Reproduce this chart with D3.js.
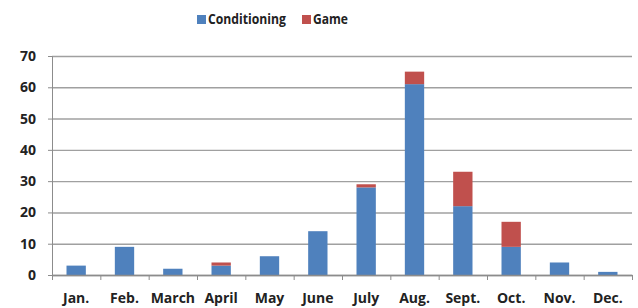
<html>
  <head>
    <title>Conditioning vs Game</title>
    <script src="https://d3js.org/d3.v7.min.js"></script>
  </head>
  <body style="margin:0; background:#fff;">
    <svg id="barchart" width="638" height="308"></svg>
    <script>
    // data
    const months = ["Jan.", "Feb.", "March", "April", "May", "June", "July", "Aug.", "Sept.", "Oct.", "Nov.", "Dec."];
    const conditioning = [3, 9, 2, 3, 6, 14, 28, 61, 22, 9, 4, 1];
    const game = [0, 0, 0, 1, 0, 0, 1, 4, 11, 8, 0, 0];
    const seriesNames = ["Conditioning", "Game"];
    const yTicks = [0, 10, 20, 30, 40, 50, 60, 70];

    const colors = {"Conditioning": "#4f81bd", "Game": "#c0504d"};
    const font = "'Open Sans', 'Liberation Sans', sans-serif";

    const svg = d3.select("svg#barchart");
    const margins = {"top": 56, "right": 6, "bottom": 33, "left": 52};
    const width = +svg.attr("width");
    const height = +svg.attr("height");
    const chartWidth = width - margins.left - margins.right;
    const chartHeight = height - margins.top - margins.bottom;

    const rows = months.map((m, i) => ({month: m, Conditioning: conditioning[i], Game: game[i]}));
    const stacked = d3.stack().keys(seriesNames)(rows);

    const xScale = d3.scaleBand().domain(months).range([0, chartWidth]).paddingInner(0.6).paddingOuter(0.3);
    const yScale = d3.scaleLinear().domain([0, 70]).range([chartHeight, 0]);

    const chart = svg.append("g")
      .attr("transform", "translate(" + margins.left + "," + margins.top + ")");

    // gridlines
    chart.append("g")
      .attr("class", "y gridlines")
      .attr("color", "#a0a0a0")
      .call(d3.axisLeft(yScale).tickValues(yTicks).tickSize(-chartWidth).tickFormat(""))
      .call(g => g.select(".domain").remove())
      .call(g => g.selectAll("line").attr("stroke-width", 1.4));

    // left axis
    let leftAxis = chart.append("g")
      .attr("class", "y axis")
      .attr("color", "#8c8c8c")
      .call(d3.axisLeft(yScale).tickValues(yTicks).tickSize(4).tickPadding(12));
    leftAxis.selectAll("text")
      .attr("fill", "#222")
      .style("font-family", font)
      .style("font-size", "14px")
      .style("font-weight", "bold");

    // bars
    chart.selectAll("g.series").data(stacked)
      .join("g").attr("class", "series")
      .attr("fill", d => colors[d.key])
      .selectAll("rect").data(d => d)
      .join("rect")
      .attr("x", d => xScale(d.data.month))
      .attr("y", d => yScale(d[1]))
      .attr("height", d => yScale(d[0]) - yScale(d[1]))
      .attr("width", xScale.bandwidth());

    // bottom axis with ticks at category boundaries
    const boundaryScale = d3.scaleLinear().domain([0, 12]).range([0, chartWidth]);
    chart.append("g")
      .attr("class", "x boundaries")
      .attr("transform", "translate(0," + chartHeight + ")")
      .attr("color", "#8c8c8c")
      .call(d3.axisBottom(boundaryScale).ticks(12).tickSize(5).tickFormat("").tickSizeOuter(0))
      .call(g => g.select(".domain").attr("stroke-width", 1.4));

    let bottomAxis = chart.append("g")
      .attr("class", "x axis")
      .attr("transform", "translate(0," + chartHeight + ")")
      .call(d3.axisBottom(xScale).tickSize(0).tickPadding(18));
    bottomAxis.select(".domain").remove();
    bottomAxis.selectAll("text")
      .attr("fill", "#222")
      .style("font-family", font)
      .style("font-size", "14px")
      .style("font-weight", "bold");

    // legend (text squeezed a little to mimic the narrow original font)
    const legend = svg.append("g").attr("class", "legend")
      .attr("transform", "translate(197,20)");
    const legendX = [0, 105];
    const legendTextLen = [78, 35];
    seriesNames.forEach((name, i) => {
      let item = legend.append("g").attr("transform", "translate(" + legendX[i] + ",0)");
      item.append("rect").attr("x", 0).attr("y", -5).attr("width", 9).attr("height", 9)
        .attr("fill", colors[name]);
      item.append("text").attr("x", 11).attr("y", 0)
        .attr("dominant-baseline", "middle")
        .attr("fill", "#222")
        .attr("textLength", legendTextLen[i])
        .attr("lengthAdjust", "spacingAndGlyphs")
        .style("font-family", font)
        .style("font-size", "14px")
        .style("font-weight", "bold")
        .text(name);
    });
    </script>
  </body>
</html>
